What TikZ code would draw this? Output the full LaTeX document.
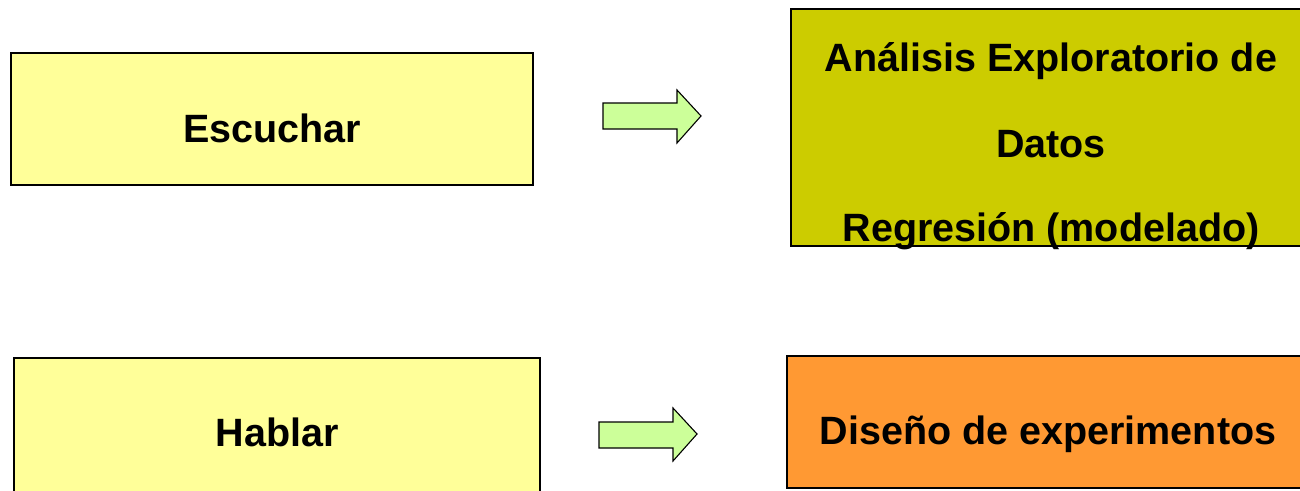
\documentclass[tikz,border=0pt]{standalone}
\usepackage{fontspec}
\setmainfont{Liberation Sans}
\definecolor{paleyellow}{HTML}{FFFF99}
\definecolor{olivebox}{HTML}{CCCC00}
\definecolor{orangebox}{HTML}{FF9933}
\definecolor{arrowgreen}{HTML}{CCFF99}
\begin{document}
\begin{tikzpicture}[x=1pt,y=-1pt,
  box/.style={draw=black,line width=1.2pt},
  label/.style={font=\fontsize{39.5}{47}\bfseries\selectfont,anchor=base,inner sep=0pt},
  blockarrow/.style={draw=black,line width=1.1pt,fill=arrowgreen,line join=miter}]
\useasboundingbox (0,0) rectangle (1300,490);

% left column boxes
\draw[box,fill=paleyellow] (11,53) rectangle (533,185);
\node[label] (escuchar) at (272,142) {Escuchar};
\draw[box,fill=paleyellow] (14,494) -- (14,358) -- (540,358) -- (540,494);
\node[label] (hablar) at (277,446) {Hablar};

% right column boxes
\draw[box,fill=olivebox] (791,9) rectangle (1312,246);
\node[label] (analisis) at (1051,71) {Análisis Exploratorio de};
\node[label] (datos) at (1051,157) {Datos};
\node[label] (regresion) at (1051,241) {Regresión (modelado)};
\draw[box,fill=orangebox] (787,356) rectangle (1310,488);
\node[label] (diseno) at (1048,444) {Diseño de experimentos};

% block arrows
\draw[blockarrow] (603,103) -- (677,103) -- (677,90) -- (701,116) -- (677,143) -- (677,129) -- (603,129) -- cycle;
\draw[blockarrow] (599,422) -- (673,422) -- (673,408) -- (697,434) -- (673,461) -- (673,448) -- (599,448) -- cycle;
\end{tikzpicture}
\end{document}
